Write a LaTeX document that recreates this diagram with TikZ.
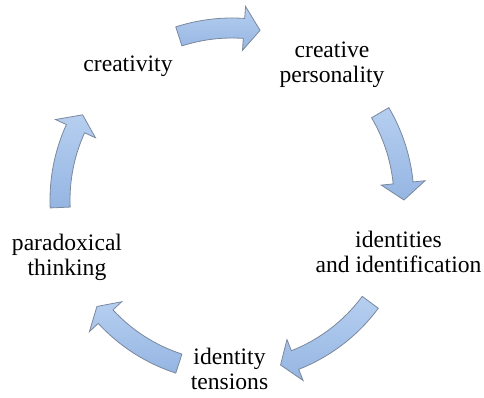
\documentclass[tikz,border=0pt]{standalone}
\usepackage{fontspec}
\setmainfont{Liberation Serif}
\definecolor{arrowtop}{HTML}{B6CFF0}
\definecolor{arrowbottom}{HTML}{95B5E2}
\definecolor{arrowedge}{HTML}{7A889E}
% curved block arrow on the cycle: tail angle, head base angle, tip angle
\newcommand\cyclearrow[3]{%
  \path[cycle arrow]
    (#1:182) arc[start angle=#1, end angle=#2, radius=182]
    -- (#2:194) -- (#3:172) -- (#2:150) -- (#2:162)
    arc[start angle=#2, end angle=#1, radius=162] -- cycle;}
\begin{document}
\begin{tikzpicture}[x=1pt, y=1pt,
  steplabel/.style={font=\rmfamily\fontsize{23.6}{25}\selectfont, align=center,
    anchor=base, inner sep=0pt},
  cycle arrow/.style={draw=arrowedge, line width=0.8pt, line join=miter,
    top color=arrowtop, bottom color=arrowbottom}]
\useasboundingbox (0,0) rectangle (484,397);
\coordinate (C) at (232,197);

% the five stages (base = baseline of the last line)
\node[steplabel] (creativity)  at (128,325) {creativity};
\node[steplabel] (personality) at (332,314) {creative\\personality};
\node[steplabel] (identities)  at (398.5,125) {identities\\and identification};
\node[steplabel] (tensions)    at (229.5,8) {identity\\tensions};
\node[steplabel] (paradoxical) at (67,122) {paradoxical\\thinking};

% arrows running clockwise around the cycle
\begin{scope}[shift={(C)}]
  \cyclearrow{108}{86}{80.6}
  \cyclearrow{30.5}{5.7}{0}
  \cyclearrow{-36.5}{-68.5}{-73.6}
  \cyclearrow{-108}{-137.3}{-141.75}
  \cyclearrow{182.5}{155.5}{150.3}
\end{scope}
\end{tikzpicture}
\end{document}
